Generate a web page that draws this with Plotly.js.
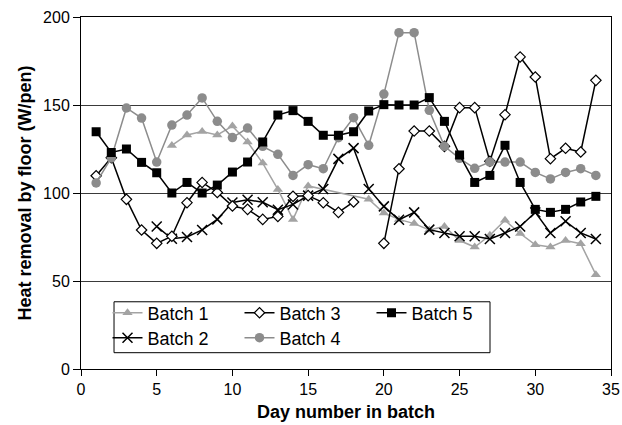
<!DOCTYPE html>
<html>
<head>
<meta charset="utf-8">
<script src="https://cdn.plot.ly/plotly-3.0.1.min.js"></script>
<style>html,body{margin:0;padding:0;background:#fff;}#chart{width:622px;height:425px;}</style>
</head>
<body>
<div id="chart"></div>
<script>
var days = [1,2,3,4,5,6,7,8,9,10,11,12,13,14,15,16,17,18,19,20,21,22,23,24,25,26,27,28,29,30,31,32,33,34];
var batch1 = [null,null,null,null,null,127,133,135,133,138,129,117,102,85,104,null,null,null,96.5,88.6,85,82.6,79,81,73,69.3,76,84.5,77,70.6,69.3,73,71.2,53.6];
var batch2 = [null,null,null,null,81,74,75,79,85,94.6,96.2,94.7,90.5,93.5,98.5,102.3,119.4,125.5,102.3,92.4,84.8,89,79.2,77.3,75.4,75.4,73.9,77.3,81,89,77.3,83.9,77.3,73.9];
var batch3 = [109.8,120,96.4,79,71.4,75.4,94.5,106,100.3,92.6,90.7,85,86.7,98.1,98.5,94.5,89,94.9,null,71.4,113.8,135.2,135.2,126.5,148.5,148.5,118,144.5,177.3,165.9,119.5,125.4,123.3,164];
var batch4 = [105.7,119.9,148.3,142.6,117.6,138.6,144.3,154,140.7,131.5,136.9,126.5,122,110,116.1,113.8,131.4,142.8,127.1,156.2,191.1,191.1,147,126.5,119.7,114,117.6,117.6,117.6,111.7,108,111.7,113.8,110];
var batch5 = [134.8,123,125,117.4,111.5,100,106,100,104.5,111.9,117.6,129,144.3,146.8,140.7,132.8,132.8,134.8,146.6,150.2,150,150,154.2,140.7,121.6,106,110,127.1,106,90.7,89,90.7,94.9,98.1];
var seriesNames = ['Batch 1','Batch 2','Batch 3','Batch 4','Batch 5'];
var xTitle = 'Day number in batch';
var yTitle = 'Heat removal by floor (W/pen)';

var FONT = 'Liberation Sans, Arial, sans-serif';
var traces = [
  {x: days, y: batch1, name: seriesNames[0], mode: 'lines+markers', connectgaps: true, legend: 'legend',
   line: {color: '#a3a3a3', width: 1.5},
   marker: {symbol: 'triangle-up', size: 9, color: '#a3a3a3'}},
  {x: days, y: batch2, name: seriesNames[1], mode: 'lines+markers', connectgaps: false, legend: 'legend2',
   line: {color: '#000', width: 1.5},
   marker: {symbol: 'x-thin', size: 10, color: '#000', line: {color: '#000', width: 1.5}}},
  {x: days, y: batch3, name: seriesNames[2], mode: 'lines+markers', connectgaps: false, legend: 'legend',
   line: {color: '#000', width: 1.5},
   marker: {symbol: 'diamond', size: 8, color: '#fff', line: {color: '#000', width: 1.2}}},
  {x: days, y: batch4, name: seriesNames[3], mode: 'lines+markers', connectgaps: false, legend: 'legend2',
   line: {color: '#8c8c8c', width: 1.5},
   marker: {symbol: 'circle', size: 9.5, color: '#8c8c8c'}},
  {x: days, y: batch5, name: seriesNames[4], mode: 'lines+markers', connectgaps: false, legend: 'legend',
   line: {color: '#000', width: 1.5},
   marker: {symbol: 'square', size: 9, color: '#000'}}
];

var legendCommon = {orientation: 'h', xanchor: 'left', yanchor: 'middle', bgcolor: 'rgba(0,0,0,0)',
  borderwidth: 0, font: {family: FONT, size: 18, color: '#000'}, entrywidth: 87, entrywidthmode: 'pixels',
  itemwidth: 30, traceorder: 'normal'};

var layout = {
  width: 622, height: 425,
  margin: {l: 81, r: 11, t: 17, b: 56},
  paper_bgcolor: '#fff', plot_bgcolor: '#fff',
  font: {family: FONT, size: 16, color: '#000'},
  showlegend: true,
  legend: Object.assign({}, legendCommon, {x: 0.05, y: 0.159}),
  legend2: Object.assign({}, legendCommon, {x: 0.05, y: 0.088}),
  xaxis: {
    range: [0, 35], dtick: 5, tick0: 0, showgrid: false, zeroline: false,
    showline: true, linecolor: '#000', linewidth: 1, mirror: true,
    ticks: 'outside', ticklen: 6, tickcolor: '#000', tickwidth: 1,
    tickfont: {family: FONT, size: 16, color: '#000'},
    title: {text: xTitle, font: {family: FONT, size: 18, color: '#000', weight: 'bold'}, standoff: 8}
  },
  yaxis: {
    range: [0, 200], dtick: 50, tick0: 0, showgrid: true, gridcolor: '#3a3a3a', gridwidth: 1, zeroline: false,
    showline: true, linecolor: '#000', linewidth: 1, mirror: true,
    ticks: 'outside', ticklen: 7, tickcolor: '#000', tickwidth: 1,
    tickfont: {family: FONT, size: 16, color: '#000'},
    title: {text: yTitle, font: {family: FONT, size: 18, color: '#000', weight: 'bold'}, standoff: 6}
  },
  shapes: [
    {type: 'rect', xref: 'paper', yref: 'paper', x0: 0.0623, x1: 0.7717, y0: 0.0463, y1: 0.191,
     line: {color: '#000', width: 1}, fillcolor: '#fff', layer: 'above'}
  ]
};

Plotly.newPlot('chart', traces, layout, {displayModeBar: false, staticPlot: true});
</script>
</body>
</html>
